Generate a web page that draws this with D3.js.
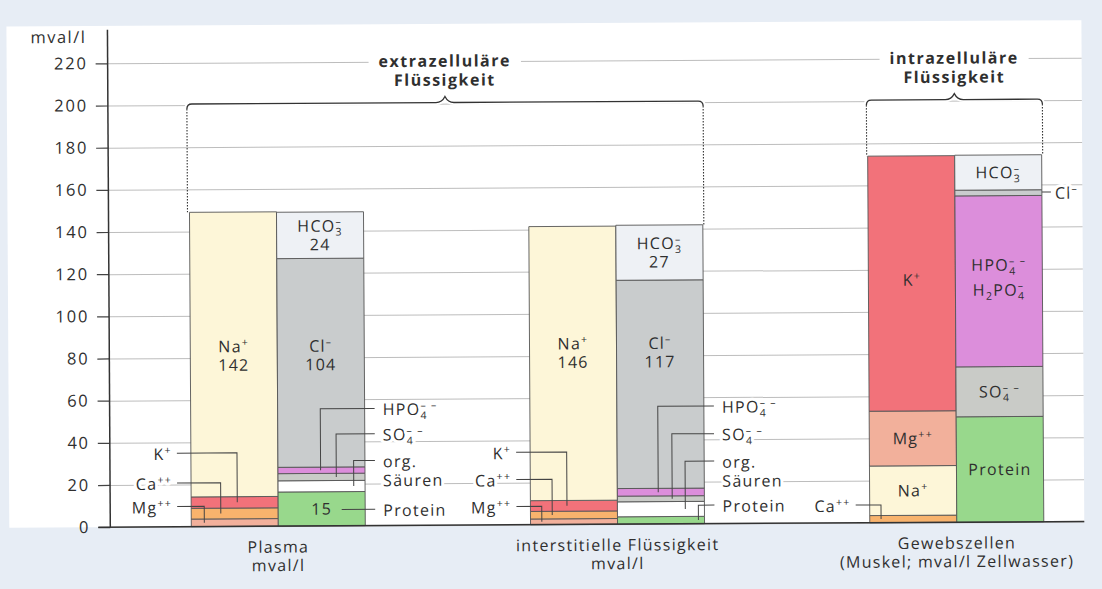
<!DOCTYPE html>
<html>
<head>
<meta charset="utf-8">
<script src="https://cdn.jsdelivr.net/npm/d3@7"></script>
<style>
    html, body { margin: 0; padding: 0; background: #e7edf5; }
    svg { display: block; font-family: "Open Sans", "Noto Sans", sans-serif; }
</style>
</head>
<body>
<svg id="chart" width="1102" height="589"></svg>
<script>
// ---------------- data (mval/l) ----------------
const groups = ["plasma", "interstitium", "muscle"];
const groupTitles = [
    ["Plasma", "mval/l"],
    ["interstitielle Flüssigkeit", "mval/l"],
    ["Gewebszellen", "(Muskel; mval/l Zellwasser)"]
];
const yTicks = [0, 20, 40, 60, 80, 100, 120, 140, 160, 180, 200, 220];

// stacked from the bottom up, heights as drawn
const plasmaCationKeys = ["Mg", "Ca", "K", "Na"];
const plasmaCations = [3.6, 5.1, 5.4, 135];
const plasmaAnionKeys = ["Protein", "org", "SO4", "HPO4", "Cl", "HCO3"];
const plasmaAnions = [16.2, 5.3, 3.4, 3.0, 99, 22];

const interCationKeys = ["Mg", "Ca", "K", "Na"];
const interCations = [2.7, 3.6, 5.1, 130];
const interAnionKeys = ["Protein", "org", "SO4", "HPO4", "Cl", "HCO3"];
const interAnions = [3.5, 7.1, 2.7, 3.6, 98.8, 26.1];

const muscleCationKeys = ["Ca", "Na", "Mg", "K"];
const muscleCations = [3.4, 23.5, 26.0, 121.0];
const muscleAnionKeys = ["Protein", "SO4", "HPO4", "Cl", "HCO3"];
const muscleAnions = [50, 23.7, 81.1, 2.7, 16.6];

// numbers printed in the bars
const printedKeys = ["Na", "Cl", "HCO3", "Protein"];
const plasmaPrinted = ["142", "104", "24", "15"];
const interPrinted = ["146", "117", "27", ""];

// ---------------- styles ----------------
const colors = {
    Na: "#fdf6d8", K: "#f2727a", Ca: "#f8b36d", Mg: "#f2b09b",
    HCO3: "#eef1f5", Cl: "#c9cccd", HPO4: "#dc8edb", SO4: "#c9cbc7",
    org: "#ffffff", Protein: "#98d88c"
};
// [base, subscript, superscript]
const ionText = {
    Na: [["Na", "", "+"]], K: [["K", "", "+"]], Ca: [["Ca", "", "++"]], Mg: [["Mg", "", "++"]],
    Cl: [["Cl", "", "–"]], HCO3: [["HCO", "3", "–"]], HPO4: [["HPO", "4", "– –"]],
    SO4: [["SO", "4", "– –"]], H2PO4: [["H", "2", ""], ["PO", "4", "–"]],
    Protein: [["Protein", "", ""]], org: [["org.", "", ""]]
};
const textColor = "#2f2f2f", lineColor = "#444";
const FS = 16, LS = 1.3;

// ---------------- scales ----------------
const W = 1102, H = 589;
const axisX = 109, plotRight = 1083, plotTop = 23;
const y = d3.scaleLinear().domain([0, 220]).range([524.3, 60.5]);
const xGroup = d3.scalePoint().domain(groups).range([277, 955.5]);
const xCol = d3.scaleBand().domain(["cat", "an"]).range([-87, 87]);

function stack(keys, vals) {
    const tops = d3.cumsum(vals);
    return keys.map((k, i) => ({ key: k, y0: tops[i] - vals[i], y1: tops[i] }));
}
const columns = [
    { g: "plasma", col: "cat", segs: stack(plasmaCationKeys, plasmaCations) },
    { g: "plasma", col: "an", segs: stack(plasmaAnionKeys, plasmaAnions) },
    { g: "interstitium", col: "cat", segs: stack(interCationKeys, interCations) },
    { g: "interstitium", col: "an", segs: stack(interAnionKeys, interAnions) },
    { g: "muscle", col: "cat", segs: stack(muscleCationKeys, muscleCations) },
    { g: "muscle", col: "an", segs: stack(muscleAnionKeys, muscleAnions) }
];
const colLeft = (g, c) => xGroup(g) + xCol(c);
const seg = (g, c, k) => columns.find(d => d.g === g && d.col === c).segs.find(s => s.key === k);
const colTop = (g, c) => d3.max(columns.find(d => d.g === g && d.col === c).segs, s => s.y1);

// label placement (mval/l for heights, fraction of column width for the drop)
const leaders = [
    { g: "plasma", col: "cat", key: "K", side: "left", at: 34.9, fx: 0.53 },
    { g: "plasma", col: "cat", key: "Ca", side: "left", at: 20.8, fx: 0.34 },
    { g: "plasma", col: "cat", key: "Mg", side: "left", at: 9.6, fx: 0.15 },
    { g: "plasma", col: "an", key: "HPO4", side: "right", at: 55.6, fx: 0.49 },
    { g: "plasma", col: "an", key: "SO4", side: "right", at: 43.6, fx: 0.67 },
    { g: "plasma", col: "an", key: "org", side: "right", at: 30.9, fx: 0.87 },
    { g: "plasma", col: "an", key: "Protein", side: "right", at: 7.7, fx: 0.73, noDrop: true },
    { g: "interstitium", col: "cat", key: "K", side: "left", at: 34.4, fx: 0.42 },
    { g: "interstitium", col: "cat", key: "Ca", side: "left", at: 21.5, fx: 0.25 },
    { g: "interstitium", col: "cat", key: "Mg", side: "left", at: 8.7, fx: 0.13 },
    { g: "interstitium", col: "an", key: "HPO4", side: "right", at: 55.8, fx: 0.47 },
    { g: "interstitium", col: "an", key: "SO4", side: "right", at: 42.7, fx: 0.63 },
    { g: "interstitium", col: "an", key: "org", side: "right", at: 29.7, fx: 0.78 },
    { g: "interstitium", col: "an", key: "Protein", side: "right", at: 8.8, fx: 0.93 },
    { g: "muscle", col: "cat", key: "Ca", side: "left", at: 8.4, fx: 0.13 },
    { g: "muscle", col: "an", key: "Cl", side: "right", at: 156.4, fx: 1, noDrop: true, gap: 9, textGap: 13 }
];
const barLabels = [
    { g: "plasma", col: "cat", key: "Na", lines: ["Na", "#Na"], at: 81 },
    { g: "plasma", col: "an", key: "Cl", lines: ["Cl", "#Cl"], at: 81 },
    { g: "plasma", col: "an", key: "HCO3", lines: ["HCO3", "#HCO3"] },
    { g: "plasma", col: "an", key: "Protein", lines: ["#Protein"] },
    { g: "interstitium", col: "cat", key: "Na", lines: ["Na", "#Na"], at: 81.4 },
    { g: "interstitium", col: "an", key: "Cl", lines: ["Cl", "#Cl"], at: 81.4 },
    { g: "interstitium", col: "an", key: "HCO3", lines: ["HCO3", "#HCO3"] },
    { g: "muscle", col: "cat", key: "K", lines: ["K"], at: 115 },
    { g: "muscle", col: "cat", key: "Mg", lines: ["Mg"] },
    { g: "muscle", col: "cat", key: "Na", lines: ["Na"] },
    { g: "muscle", col: "an", key: "HCO3", lines: ["HCO3"] },
    { g: "muscle", col: "an", key: "HPO4", lines: ["HPO4", "H2PO4"], at: 116, lh: 25 },
    { g: "muscle", col: "an", key: "SO4", lines: ["SO4"] },
    { g: "muscle", col: "an", key: "Protein", lines: ["Protein"] }
];
const printedFor = { plasma: plasmaPrinted, interstitium: interPrinted };

// ---------------- drawing ----------------
const svg = d3.select("#chart");
svg.append("rect").attr("width", W).attr("height", H).attr("fill", "#e7edf5");

// the scanned figure sits slightly rotated
const root = svg.append("g").attr("transform", "rotate(-0.33,600,300)");

root.append("rect")
    .attr("x", 8).attr("y", plotTop)
    .attr("width", plotRight - 8).attr("height", y(0) - plotTop)
    .attr("fill", "#fff");

// gridlines
const grid = root.append("g")
    .attr("transform", `translate(${axisX},0)`)
    .call(d3.axisLeft(y).tickValues(yTicks).tickSize(-(plotRight - axisX)).tickFormat(""));
grid.select(".domain").remove();
grid.selectAll("line").attr("stroke", "#bdbdbd").attr("stroke-width", 1);

// y axis ticks and labels
const yAxis = root.append("g")
    .attr("transform", `translate(${axisX},0)`)
    .call(d3.axisLeft(y).tickValues(yTicks).tickSize(12).tickPadding(8));
yAxis.select(".domain").remove();
yAxis.selectAll("line").attr("stroke", lineColor).attr("stroke-width", 1.2);
yAxis.attr("font-family", null).attr("font-size", 16.5);
yAxis.selectAll("text").attr("fill", textColor).attr("letter-spacing", 1.8);

root.append("text")
    .attr("x", 88).attr("y", 34 + 0.36 * 16.5)
    .attr("text-anchor", "end").attr("font-size", 16.5).attr("letter-spacing", 1.5)
    .attr("fill", textColor).text("mval/l");

root.append("line")
    .attr("x1", axisX).attr("x2", axisX).attr("y1", plotTop + 4).attr("y2", y(0))
    .attr("stroke", "#333").attr("stroke-width", 1.5);

// brackets
function bracket(x0, x1, leftTop, rightTop, title) {
    const yb = y(200) - 1, xm = (x0 + x1) / 2;
    const d = `M${x0},${yb + 5} Q${x0},${yb} ${x0 + 5},${yb} H${xm - 9} Q${xm - 3},${yb} ${xm},${yb - 6}` +
        ` Q${xm + 3},${yb} ${xm + 9},${yb} H${x1 - 5} Q${x1},${yb} ${x1},${yb + 5}`;
    root.append("path").attr("d", d).attr("fill", "none").attr("stroke", "#fff").attr("stroke-width", 5);
    root.append("path").attr("d", d).attr("fill", "none").attr("stroke", "#333").attr("stroke-width", 1.3);
    [[x0, leftTop], [x1, rightTop]].forEach(([x, v]) => {
        root.append("line")
            .attr("x1", x).attr("x2", x).attr("y1", yb + 5).attr("y2", y(v))
            .attr("stroke", "#333").attr("stroke-width", 1.1).attr("stroke-dasharray", "1.5,1.5");
    });
    const t = root.append("text")
        .attr("x", xm).attr("y", y(220) - 0.5 + 0.36 * FS)
        .attr("text-anchor", "middle").attr("font-weight", "bold")
        .attr("font-size", FS).attr("letter-spacing", 1.5).attr("fill", "#2f2f2f")
        .text(title[0]);
    const bb = t.node().getBBox();
    root.insert("rect", () => t.node())
        .attr("x", bb.x - 10).attr("y", bb.y).attr("width", bb.width + 20).attr("height", bb.height)
        .attr("fill", "#fff");
    root.append("text")
        .attr("x", xm).attr("y", y(220) + 18.5 + 0.36 * FS)
        .attr("text-anchor", "middle").attr("font-weight", "bold")
        .attr("font-size", FS).attr("letter-spacing", 1.5).attr("fill", "#2f2f2f")
        .text(title[1]);
}
bracket(colLeft("plasma", "cat") - 2, colLeft("interstitium", "an") + xCol.bandwidth() + 1,
    colTop("plasma", "cat"), colTop("interstitium", "an"), ["extrazelluläre", "Flüssigkeit"]);
bracket(colLeft("muscle", "cat") - 1, colLeft("muscle", "an") + xCol.bandwidth() + 1,
    colTop("muscle", "cat"), colTop("muscle", "an"), ["intrazelluläre", "Flüssigkeit"]);

// stacked bars
columns.forEach(c => {
    root.append("g").selectAll("rect")
        .data(c.segs)
        .join("rect")
        .attr("x", colLeft(c.g, c.col))
        .attr("width", xCol.bandwidth())
        .attr("y", d => y(d.y1))
        .attr("height", d => y(d.y0) - y(d.y1))
        .attr("fill", d => colors[d.key])
        .attr("stroke", "#555")
        .attr("stroke-width", 0.9);
});

// x axis line
root.append("line")
    .attr("x1", axisX - 12).attr("x2", plotRight).attr("y1", y(0)).attr("y2", y(0))
    .attr("stroke", "#333").attr("stroke-width", 1.5);

// text with sub- and superscripts
function addIon(text, spec, fs) {
    const small = fs * 0.66;
    spec.forEach(([base, sub, sup]) => {
        text.append("tspan").text(base);
        if (sub) text.append("tspan").attr("font-size", small).attr("baseline-shift", `${-fs * 0.28}px`).text(sub);
        if (sup) text.append("tspan").attr("font-size", small)
            .attr("dx", sub ? -(small * 0.57 + LS) : 0)
            .attr("baseline-shift", `${fs * 0.4}px`).text(sup);
    });
}
function label(x, yy, content, anchor, halo) {
    const t = root.append("text")
        .attr("x", x).attr("y", yy + 0.36 * FS)
        .attr("text-anchor", anchor)
        .attr("font-size", FS).attr("letter-spacing", LS)
        .attr("fill", textColor);
    if (halo) t.attr("stroke", "#fff").attr("stroke-width", 6).attr("stroke-linejoin", "round").attr("paint-order", "stroke");
    if (ionText[content]) addIon(t, ionText[content], FS);
    else t.text(content);
    return t;
}

// in-bar labels
barLabels.forEach(b => {
    const s = seg(b.g, b.col, b.key);
    const cy = y(b.at !== undefined ? b.at : (s.y0 + s.y1) / 2);
    const lh = b.lh || 18.5;
    const cx = colLeft(b.g, b.col) + xCol.bandwidth() / 2;
    b.lines.forEach((line, i) => {
        const content = line.startsWith("#") ? printedFor[b.g][printedKeys.indexOf(line.slice(1))] : line;
        label(cx, cy + (i - (b.lines.length - 1) / 2) * lh, content, "middle", false);
    });
});

// leader lines with outside labels
leaders.forEach(a => {
    const s = seg(a.g, a.col, a.key);
    const left = colLeft(a.g, a.col), w = xCol.bandwidth();
    const ly = y(a.at), px = left + a.fx * w;
    let x0, tx, anchor;
    if (a.side === "left") { x0 = left - 14; tx = left - 19; anchor = "end"; }
    else { x0 = left + w + (a.gap ?? 10); tx = left + w + (a.textGap ?? 18); anchor = "start"; }
    const pts = a.noDrop ? [[px, ly], [x0, ly]] : [[x0, ly], [px, ly], [px, y((s.y0 + s.y1) / 2)]];
    root.append("path")
        .attr("d", d3.line()(pts))
        .attr("fill", "none").attr("stroke", lineColor).attr("stroke-width", 1);
    label(tx, ly + 1, a.key, anchor, true);
    if (a.key === "org") label(tx, ly + 20, "Säuren", anchor, true);
});

// group titles
groups.forEach((gname, i) => {
    groupTitles[i].forEach((line, j) => {
        root.append("text")
            .attr("x", xGroup(gname)).attr("y", 545 + j * 18.5 + 0.36 * FS)
            .attr("text-anchor", "middle")
            .attr("font-size", FS).attr("letter-spacing", LS)
            .attr("fill", textColor)
            .text(line);
    });
});
</script>
</body>
</html>
